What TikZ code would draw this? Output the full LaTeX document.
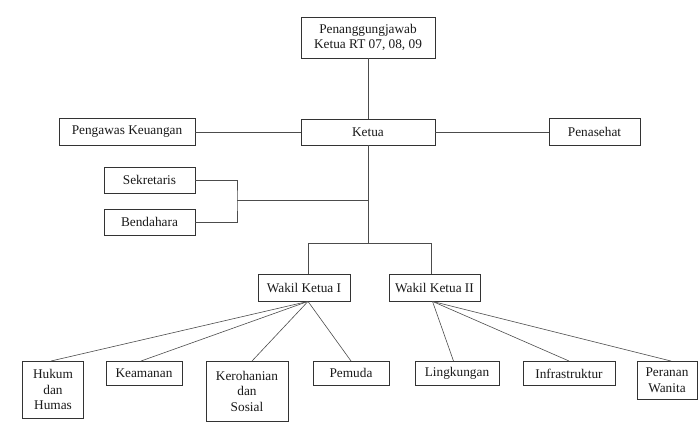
\documentclass[tikz,border=0pt]{standalone}
\usepackage{fontspec}
\setmainfont{Liberation Serif}
\begin{document}
\begin{tikzpicture}[x=1pt,y=-1pt,
  box/.style={draw=black!80, line width=0.8pt, fill=white, inner sep=0pt, align=center,
    font=\fontsize{13.3}{15.5}\selectfont, text=black!90},
  link/.style={draw=black!70, line width=0.8pt},
  fan/.style={draw=black!70, line width=0.6pt}]
\useasboundingbox (0,0) rectangle (700,437);
\node[box, minimum width=134pt, minimum height=41pt, font=\fontsize{13.3}{14.5}\selectfont] (pj) at (368,37.5) {Penanggungjawab\\Ketua RT 07, 08, 09};
\node[box, minimum width=134pt, minimum height=26pt] (ketua) at (368,132) {Ketua};
\node[box, minimum width=136pt, minimum height=27pt] (pk) at (127,132) {Pengawas Keuangan};
\node[box, minimum width=91pt, minimum height=27pt] (pn) at (594.5,132) {Penasehat};
\node[box, minimum width=91pt, minimum height=26pt] (sek) at (149.5,180) {Sekretaris};
\node[box, minimum width=91pt, minimum height=26pt] (ben) at (149.5,222) {Bendahara};
\node[box, minimum width=92pt, minimum height=27pt] (w1) at (304,287.5) {Wakil Ketua I};
\node[box, minimum width=91pt, minimum height=27pt] (w2) at (434.5,287.5) {Wakil Ketua II};
\node[box, minimum width=61pt, minimum height=57pt, anchor=north] (huk) at (53,361) {Hukum\\dan\\Humas};
\node[box, minimum width=76pt, minimum height=24pt, anchor=north] (kea) at (144,361) {Keamanan};
\node[box, minimum width=82pt, minimum height=60pt, anchor=north] (ker) at (247,361) {Kerohanian\\dan\\Sosial};
\node[box, minimum width=76pt, minimum height=24pt, anchor=north] (pem) at (351,361) {Pemuda};
\node[box, minimum width=84pt, minimum height=24pt, anchor=north] (lin) at (457,361) {Lingkungan};
\node[box, minimum width=92pt, minimum height=24pt, anchor=north] (inf) at (569,361) {Infrastruktur};
\node[box, minimum width=60pt, minimum height=38pt, anchor=north] (per) at (667,361) {Peranan\\Wanita};
\coordinate (brk) at (237,200);
\coordinate (tr) at (368,200);
\coordinate (bar) at (368,243);
\coordinate (b1) at (308,243);
\coordinate (b2) at (431,243);
% links
\draw[link] (pj.south) -- (ketua.north);
\draw[link] (pk.east) -- (ketua.west);
\draw[link] (ketua.east) -- (pn.west);
\draw[link] (sek.east) -| (brk) |- (ben.east);
\draw[link] (brk) -- (tr);
\draw[link] (ketua.south) -- (bar);
\draw[link] (b1) -- (b2);
\draw[link] (b1) -- ([xshift=4pt]w1.north);
\draw[link] (b2) -- ([xshift=-3.5pt]w2.north);
% fans
\draw[fan] ([xshift=4pt]w1.south) -- ([xshift=-2pt]huk.north);
\draw[fan] ([xshift=4pt]w1.south) -- ([xshift=-3pt]kea.north);
\draw[fan] ([xshift=4pt]w1.south) -- ([xshift=5pt]ker.north);
\draw[fan] ([xshift=4pt]w1.south) -- (pem.north);
\draw[fan] ([xshift=-2pt]w2.south) -- ([xshift=-3.5pt]lin.north);
\draw[fan] ([xshift=-2pt]w2.south) -- (inf.north);
\draw[fan] ([xshift=-2pt]w2.south) -- ([xshift=4pt]per.north);
\end{tikzpicture}
\end{document}
